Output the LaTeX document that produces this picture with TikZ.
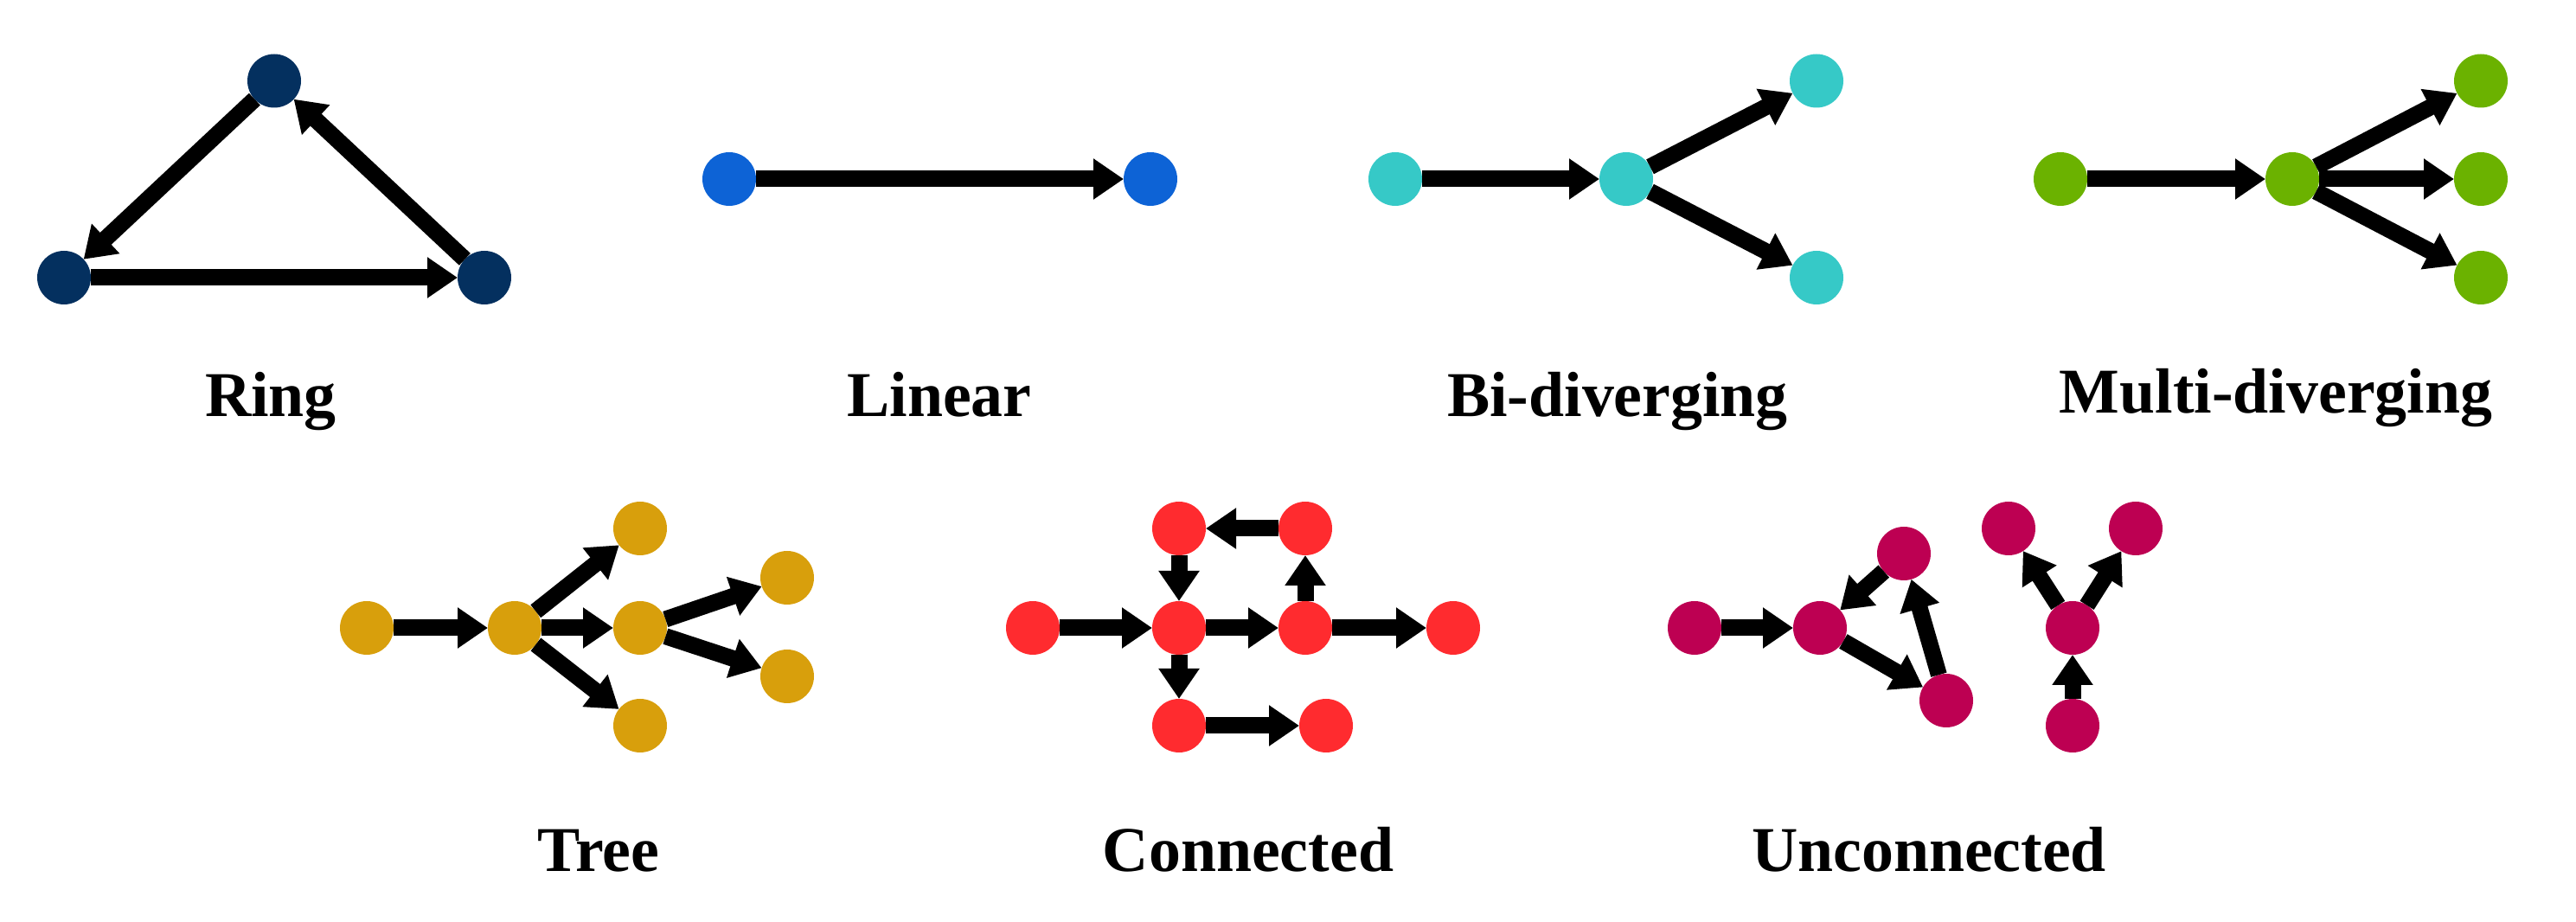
\documentclass[tikz,border=0pt]{standalone}
\usepackage{fontspec}
\setmainfont{Liberation Serif}
\usetikzlibrary{automata, positioning, arrows.meta}
\definecolor{ringcol}{HTML}{04305F}
\definecolor{linearcol}{HTML}{0D63D6}
\definecolor{bicol}{HTML}{36C9C7}
\definecolor{multicol}{HTML}{6BB200}
\definecolor{treecol}{HTML}{D89F0C}
\definecolor{conncol}{HTML}{FF2B2F}
\definecolor{unconncol}{HTML}{BD0052}

\begin{document}
\begin{tikzpicture}[
    on grid,
    >={Triangle[length=0.35cm, width=0.45cm]},
    every state/.style={draw=none, minimum size=0.62cm, inner sep=0pt, outer sep=0pt},
    every edge/.append style={line width=0.19cm},
    title/.style={font=\fontsize{21}{25}\selectfont\bfseries, anchor=base}
]
   \useasboundingbox (0,0) rectangle (29.78,-10.66);

   % Ring
   \node[state, fill=ringcol] (r1) at (0.74,-3.21) {};
   \node[state, fill=ringcol] (r2) [right=4.86 of r1] {};
   \node[state, fill=ringcol] (r3) [above right=2.275 and 2.43 of r1] {};
   \path[->]
   (r3) edge (r1)
   (r1) edge (r2)
   (r2) edge (r3);
   \node[title] (ringlbl) at (3.13,-4.82) {Ring};

   % Linear
   \node[state, fill=linearcol] (l1) at (8.43,-2.07) {};
   \node[state, fill=linearcol] (l2) [right=4.87 of l1] {};
   \path[->] (l1) edge (l2);
   \node[title] (linlbl) at (10.86,-4.82) {Linear};

   % Bi-diverging
   \node[state, fill=bicol] (b1) at (16.13,-2.07) {};
   \node[state, fill=bicol] (b2) [right=2.67 of b1] {};
   \node[state, fill=bicol] (b3) [above right=1.135 and 2.2 of b2] {};
   \node[state, fill=bicol] (b4) [below right=1.14 and 2.2 of b2] {};
   \path[->]
   (b1) edge (b2)
   (b2) edge (b3)
        edge (b4);
   \node[title] (bilbl) at (18.70,-4.82) {Bi-diverging};

   % Multi-diverging
   \node[state, fill=multicol] (m1) at (23.82,-2.07) {};
   \node[state, fill=multicol] (m2) [right=2.68 of m1] {};
   \node[state, fill=multicol] (m3) [above right=1.135 and 2.18 of m2] {};
   \node[state, fill=multicol] (m4) [right=2.18 of m2] {};
   \node[state, fill=multicol] (m5) [below right=1.14 and 2.18 of m2] {};
   \path[->]
   (m1) edge (m2)
   (m2) edge (m3)
        edge (m4)
        edge (m5);
   \node[title] (multilbl) at (26.31,-4.78) {Multi-diverging};

   % Tree
   \node[state, fill=treecol] (t1) at (4.24,-7.26) {};
   \node[state, fill=treecol] (t2) [right=1.71 of t1] {};
   \node[state, fill=treecol] (t3) [above right=1.15 and 1.45 of t2] {};
   \node[state, fill=treecol] (t4) [right=1.45 of t2] {};
   \node[state, fill=treecol] (t5) [below right=1.13 and 1.45 of t2] {};
   \node[state, fill=treecol] (t6) [above right=0.58 and 1.70 of t4] {};
   \node[state, fill=treecol] (t7) [below right=0.56 and 1.70 of t4] {};
   \path[->]
   (t1) edge (t2)
   (t2) edge (t3)
        edge (t4)
        edge (t5)
   (t4) edge (t6)
        edge (t7);
   \node[title] (treelbl) at (6.92,-10.08) {Tree};

   % Connected
   \node[state, fill=conncol] (c1) at (11.94,-7.26) {};
   \node[state, fill=conncol] (c2) [right=1.69 of c1] {};
   \node[state, fill=conncol] (c3) [above=1.15 of c2] {};
   \node[state, fill=conncol] (c4) [right=1.46 of c2] {};
   \node[state, fill=conncol] (c5) [above=1.15 of c4] {};
   \node[state, fill=conncol] (c6) [right=1.71 of c4] {};
   \node[state, fill=conncol] (c7) [below=1.13 of c2] {};
   \node[state, fill=conncol] (c8) [right=1.70 of c7] {};
   \path[->]
   (c1) edge (c2)
   (c2) edge (c4)
        edge (c7)
   (c4) edge (c6)
        edge (c5)
   (c5) edge (c3)
   (c3) edge (c2)
   (c7) edge (c8);
   \node[title] (connlbl) at (14.43,-10.08) {Connected};

   % Unconnected
   \node[state, fill=unconncol] (u1) at (19.59,-7.26) {};
   \node[state, fill=unconncol] (u2) [right=1.45 of u1] {};
   \node[state, fill=unconncol] (u3) [above right=0.86 and 0.97 of u2] {};
   \node[state, fill=unconncol] (u4) [below right=0.84 and 1.46 of u2] {};
   \node[state, fill=unconncol] (y1) at (23.96,-7.26) {};
   \node[state, fill=unconncol] (y2) [above left=1.15 and 0.74 of y1] {};
   \node[state, fill=unconncol] (y3) [above right=1.15 and 0.73 of y1] {};
   \node[state, fill=unconncol] (y4) [below=1.13 of y1] {};
   \path[->]
   (u1) edge (u2)
   (u2) edge (u4)
   (u4) edge (u3)
   (u3) edge (u2)
   (y4) edge (y1)
   (y1) edge (y2)
        edge (y3);
   \node[title] (unconnlbl) at (22.30,-10.08) {Unconnected};

\end{tikzpicture}
\end{document}
